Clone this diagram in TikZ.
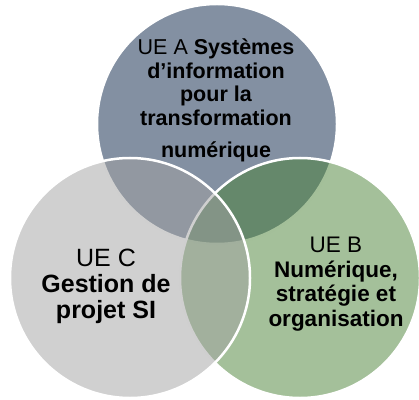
\documentclass[tikz,border=0pt]{standalone}
\usepackage{fontspec}
\setmainfont{Liberation Sans}
\definecolor{colA}{RGB}{131,144,162}
\definecolor{colB}{RGB}{73,129,53}
\definecolor{colC}{RGB}{161,161,161}
\begin{document}
\begin{tikzpicture}[x=1pt,y=1pt,
  venn/.style={draw=white, line width=2.5pt},
  txt/.style={align=center, inner sep=0pt, text=black}]
\useasboundingbox (0,0) rectangle (419,399);
% circles
\path[venn, fill=colA] (217,275) circle (120);
\path[venn, fill=colB, fill opacity=0.5] (300,121) circle (120);
\path[venn, fill=colC, fill opacity=0.5] (130,121) circle (120);
% texts
\node[txt, font=\fontsize{21.5}{23.5}\selectfont, anchor=north] (ta) at (216,360)
  {UE A \textbf{Systèmes}\\ \textbf{d’information}\\ \textbf{pour la}\\ \textbf{transformation}\\[9pt] \textbf{numérique}};
\node[txt, font=\fontsize{22.5}{24.5}\selectfont] (tb) at (336,115)
  {UE B\\ \textbf{Numérique,}\\ \textbf{stratégie et}\\ \textbf{organisation}};
\node[txt, font=\fontsize{25}{26}\selectfont] (tc) at (106,113)
  {UE C\\ \textbf{Gestion de}\\ \textbf{projet SI}};
\end{tikzpicture}
\end{document}
